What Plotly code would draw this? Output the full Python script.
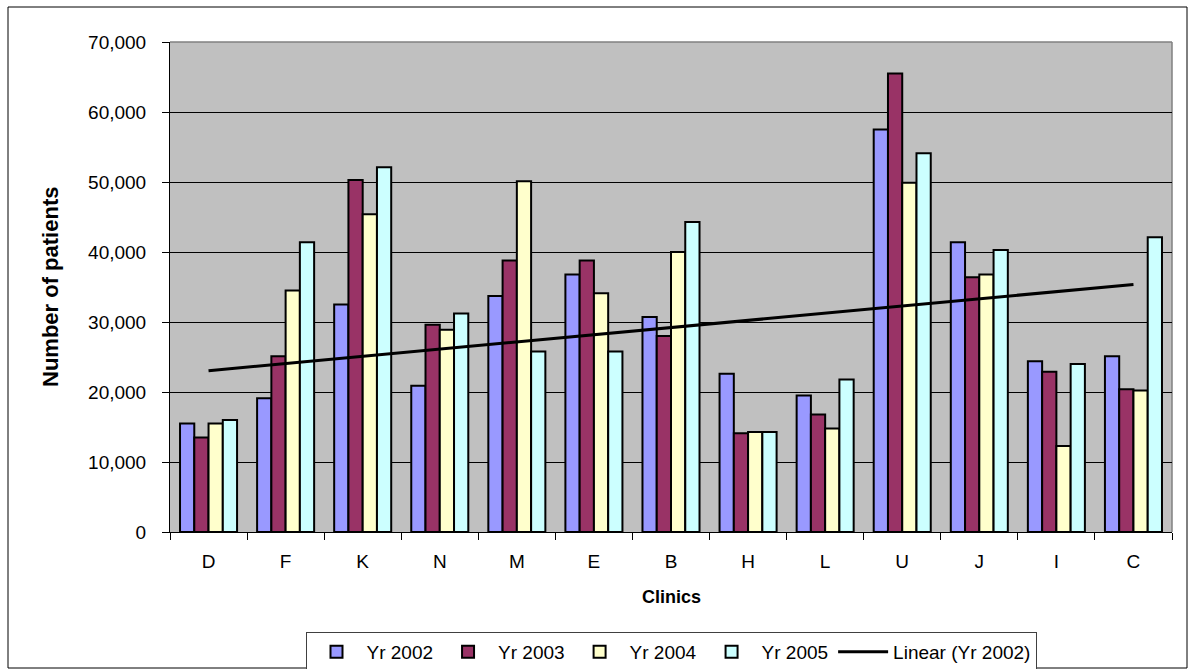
import numpy as np
import plotly.graph_objects as go

# Patients per clinic, 2002-2005
clinics = ["D", "F", "K", "N", "M", "E", "B", "H", "L", "U", "J", "I", "C"]
yr2002 = [15500, 19100, 32500, 20900, 33700, 36800, 30700, 22600, 19500, 57500, 41400, 24400, 25100]
yr2003 = [13500, 25100, 50300, 29600, 38800, 38800, 28000, 14100, 16800, 65500, 36400, 22900, 20400]
yr2004 = [15500, 34500, 45400, 28900, 50100, 34100, 40000, 14300, 14800, 49900, 36800, 12300, 20200]
yr2005 = [16000, 41400, 52100, 31200, 25800, 25800, 44300, 14300, 21800, 54100, 40300, 24000, 42100]
y_ticks = [0, 10000, 20000, 30000, 40000, 50000, 60000, 70000]

series = [
    ("Yr 2002", yr2002, "#9999FF"),
    ("Yr 2003", yr2003, "#993366"),
    ("Yr 2004", yr2004, "#FFFFCC"),
    ("Yr 2005", yr2005, "#CCFFFF"),
]

FONT = "Liberation Sans, Arial, sans-serif"

fig = go.Figure()
for name, vals, color in series:
    fig.add_trace(go.Bar(
        x=clinics, y=vals, name=name,
        marker=dict(color=color, line=dict(color="black", width=2)),
    ))

# Least-squares trend of the 2002 series
idx = np.arange(1, len(clinics) + 1)
slope, intercept = np.polyfit(idx, yr2002, 1)
trend = slope * idx + intercept
fig.add_trace(go.Scatter(
    x=clinics, y=trend, name="Linear (Yr 2002)", mode="lines",
    line=dict(color="black", width=3),
))

# plot area in px: x 170..1172, y 42..532 on a 1188x669 page
L, R, T, B = 170, 1172, 42, 532
W, H = R - L, B - T
def px_x(p):
    return (p - L) / W
def px_y(p):
    return (B - p) / H

fig.update_layout(
    width=1188, height=669,
    margin=dict(l=L, r=1188 - R, t=T, b=669 - B, autoexpand=False),
    paper_bgcolor="white",
    plot_bgcolor="#C0C0C0",
    barmode="group",
    bargap=0.26,
    bargroupgap=0,
    font=dict(family=FONT, size=19, color="black"),
    showlegend=True,
    legend=dict(
        orientation="h",
        x=0.5, xanchor="center",
        y=px_y(632), yanchor="top",
        bgcolor="white",
        bordercolor="#404040", borderwidth=1,
        font=dict(family=FONT, size=19, color="black"),
        itemwidth=50,
        traceorder="normal",
    ),
    xaxis=dict(
        type="category",
        showline=True, linecolor="black", linewidth=1,
        ticks="outside", tickson="boundaries", ticklen=7, tickcolor="black",
        ticklabelstandoff=12,
        showgrid=False,
        tickfont=dict(family=FONT, size=19),
    ),
    yaxis=dict(
        range=[0, 70000],
        tickvals=y_ticks,
        tickformat=",",
        showline=True, linecolor="black", linewidth=1,
        ticks="outside", ticklen=7, tickcolor="black",
        ticklabelstandoff=12,
        showgrid=True, gridcolor="black", gridwidth=1,
        zeroline=False,
        tickfont=dict(family=FONT, size=19),
    ),
    annotations=[
        dict(text="<b>Number of patients</b>", xref="paper", yref="paper",
             x=px_x(50), y=0.5, xanchor="center", yanchor="middle",
             textangle=-90, showarrow=False,
             font=dict(family=FONT, size=22, color="black")),
        dict(text="<b>Clinics</b>", xref="paper", yref="paper",
             x=0.5, y=px_y(597), xanchor="center", yanchor="middle",
             showarrow=False, font=dict(family=FONT, size=18, color="black")),
    ],
    shapes=[
        # grey frame on top and right of the plot area
        dict(type="line", xref="paper", yref="paper", x0=0, x1=1, y0=1, y1=1,
             line=dict(color="#808080", width=1.5), layer="between"),
        dict(type="line", xref="paper", yref="paper", x0=1, x1=1, y0=0, y1=1,
             line=dict(color="#808080", width=1.5), layer="between"),
        # outer chart border
        dict(type="rect", xref="paper", yref="paper",
             x0=px_x(8), x1=px_x(1187), y0=px_y(668), y1=px_y(7),
             line=dict(color="black", width=1), fillcolor="rgba(0,0,0,0)",
             layer="above"),
    ],
)

fig.write_html("out.html")
